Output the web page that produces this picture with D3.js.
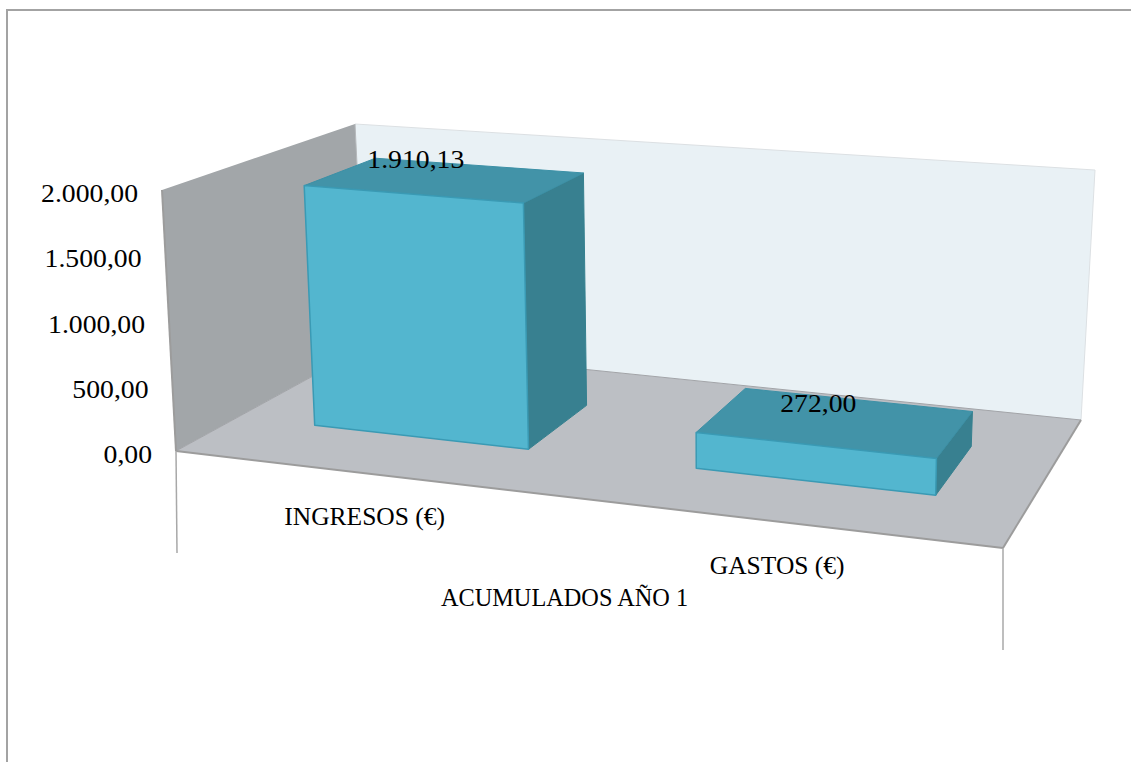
<!DOCTYPE html>
<html>
<head>
<meta charset="utf-8">
<script src="https://cdnjs.cloudflare.com/ajax/libs/d3/7.8.5/d3.min.js"></script>
<style>
html,body{margin:0;padding:0;background:#fff;overflow:hidden}
text{font-family:"Liberation Serif",serif;font-size:26px;fill:#000}
</style>
</head>
<body>
<svg id="chart" width="1131" height="762"></svg>
<script>
// ---- data ----
const categories = ["INGRESOS (€)", "GASTOS (€)"];
const values = [1910.13, 272.00];
const valueLabels = ["1.910,13", "272,00"];
const tickValues = [0, 500, 1000, 1500, 2000];
const tickLabels = ["0,00", "500,00", "1.000,00", "1.500,00", "2.000,00"];
const axisTitle = "ACUMULADOS AÑO 1";

// ---- layout ----
const W = 1131, H = 762;
const svg = d3.select("#chart");

// corners of the 3D box: [u][v][w], u along categories, v up, w into the page
const box = {
  "000": [176, 451], "100": [1003, 548],
  "001": [366, 347], "101": [1081, 420],
  "010": [162, 190], "110": [1008, 262],
  "011": [355, 124], "111": [1095, 170]
};
function project(u, v, w) {
  let x = 0, y = 0;
  for (const a of [0, 1]) for (const b of [0, 1]) for (const c of [0, 1]) {
    const k = (a ? u : 1 - u) * (b ? v : 1 - v) * (c ? w : 1 - w);
    const p = box["" + a + b + c];
    x += k * p[0]; y += k * p[1];
  }
  return [x, y];
}
const yScale = d3.scaleLinear().domain([0, 2000]).range([0, 1]);
const band = d3.scaleBand().domain(categories).range([0, 1]).paddingInner(0.426).paddingOuter(0.213);
// perspective foreshortening along the category axis
const persp = t => t / (t + (1 - t) * 1.12);
const depthFront = 0.33, depthBack = 0.72;
const labelLift = d3.scaleLinear().domain([0.136, 0.955]).range([33, 26]);
const poly = d3.line();

function face(pts, fill, stroke, sw) {
  svg.append("path").attr("d", poly(pts) + "Z")
    .attr("fill", fill).attr("stroke", stroke || "none").attr("stroke-width", sw || 0)
    .attr("stroke-linejoin", "round");
}
function seg(a, b, stroke, sw) {
  svg.append("path").attr("d", poly([a, b])).attr("fill", "none")
    .attr("stroke", stroke).attr("stroke-width", sw);
}
function label(txt, x, y, anchor, stretch) {
  const t = svg.append("text").attr("x", x).attr("y", y)
    .attr("text-anchor", anchor).attr("dominant-baseline", "alphabetic").text(txt);
  const len = t.node().getComputedTextLength();
  t.attr("textLength", len * stretch).attr("lengthAdjust", "spacingAndGlyphs");
  return t;
}

// outer frame
seg([7, 10], [W, 10], "#a3a3a3", 2);
seg([7, 9], [7, H], "#a3a3a3", 2);

// back wall
face([project(0,0,1), project(1,0,1), project(1,1,1), project(0,1,1)], "#e9f1f5");
seg(project(0,1,1), project(1,1,1), "#dce0e3", 1);
seg(project(1,1,1), project(1,0,1), "#dce0e3", 1);
// left wall
face([project(0,0,0), project(0,0,1), project(0,1,1), project(0,1,0)], "#a2a6a9");
seg(project(0,1,1), project(0,0,1), "#b5b8bb", 1);
// floor
face([project(0,0,0), project(1,0,0), project(1,0,1), project(0,0,1)], "#bcbfc4");
seg(project(0,0,1), project(1,0,1), "#a2a4a8", 1);
seg(project(0,0,0), project(0,0,1), "#a2a4a8", 1);
seg(project(0,0,0), project(0,1,0), "#9c9c9c", 2);
seg(project(0,0,0), project(1,0,0), "#9c9c9c", 2);
seg(project(1,0,0), project(1,0,1), "#9c9c9c", 2);

// drop lines below the floor
const p0 = project(0,0,0), p1 = project(1,0,0);
seg(p0, [p0[0] + 1, p0[1] + 102], "#a8a8a8", 1.5);
seg(p1, [p1[0], p1[1] + 102], "#a8a8a8", 1.5);

// bars
const anchors = [];
categories.forEach((c, i) => {
  const u0 = persp(band(c)), u1 = persp(band(c) + band.bandwidth());
  const v = yScale(values[i]);
  const a = project(u0, 0, depthFront), b = project(u1, 0, depthFront);
  const c1 = project(u1, v, depthFront), d = project(u0, v, depthFront);
  const e = project(u1, 0, depthBack), f = project(u1, v, depthBack), g = project(u0, v, depthBack);
  face([b, e, f, c1], "#388090", "#35808f", 1);
  face([d, c1, f, g], "#4293a8", "#3c90a6", 1);
  face([a, b, c1, d], "#53b6cf", "#3a9ab4", 1.5);
  anchors.push({top: [(c1[0] + d[0]) / 2, (c1[1] + d[1]) / 2], v});
});

// value-axis tick labels follow the wall's front edge
tickValues.forEach((tv, i) => {
  const p = project(0, yScale(tv), 0);
  label(tickLabels[i], p[0] - 24, p[1] + 12, "end", 1.065);
});

// category labels and value labels
categories.forEach((c, i) => {
  const mid = persp(band(c) + band.bandwidth() / 2);
  const p = project(mid, 0, 0);
  label(c, p[0] - 1, p[1] + 52, "middle", 0.98);
  label(valueLabels[i], anchors[i].top[0] + 2, anchors[i].top[1] - labelLift(anchors[i].v), "middle", 1.065);
});

// axis title
const mid = project(0.5, 0, 0);
label(axisTitle, mid[0] - 25, mid[1] + 106, "middle", 0.935);
</script>
</body>
</html>
